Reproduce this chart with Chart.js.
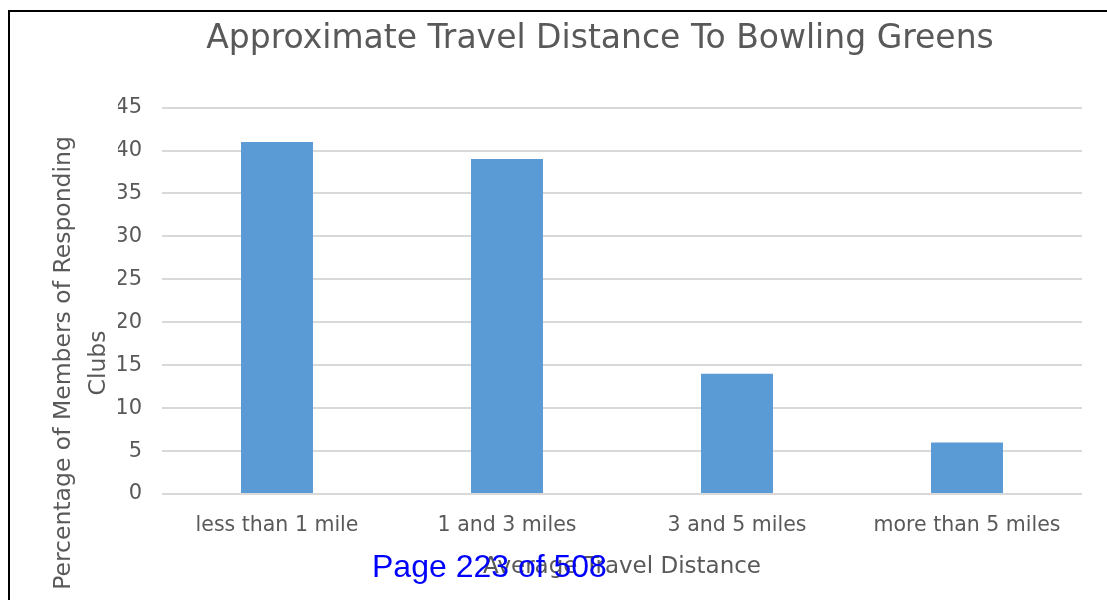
<!DOCTYPE html>
<html>
<head>
<meta charset="utf-8">
<script src="https://cdn.jsdelivr.net/npm/chart.js@4/dist/chart.umd.min.js"></script>
<style>
    html, body { margin: 0; padding: 0; background: #fff; overflow: hidden; }
    #frame { position: absolute; left: 8px; top: 10px; width: 1300px; height: 700px;
             border-left: 2px solid #000; border-top: 2px solid #000; }
    #wrap { position: absolute; left: 0; top: 0; width: 1200px; height: 600px; }
    #pageNote { position: absolute; left: 372px; top: 548px; color: #0000ff;
                font-family: "Liberation Sans", Arial, sans-serif; font-size: 32px; white-space: nowrap; }
</style>
</head>
<body>
<div id="frame"></div>
<div id="wrap"><canvas id="travelChart"></canvas></div>
<div id="pageNote">Page 223 of 508</div>
<script>
const categories = ['less than 1 mile', '1 and 3 miles', '3 and 5 miles', 'more than 5 miles'];
const percentages = [41, 39, 14, 6];
const yMin = 0;
const yMax = 45;
const yStep = 5;

const chartTitle = 'Approximate Travel Distance To Bowling Greens';
const yTitleLines = ['Percentage of Members of Responding', 'Clubs'];
const xTitle = 'Average Travel Distance';

const textColor = '#595959';
const fontName = '"DejaVu Sans", Tahoma, Verdana, sans-serif';

// y axis title sits lower than the plot centre in the original, so draw it by hand
const yTitlePlugin = {
    id: 'yTitle',
    afterDraw(chart) {
        const ctx = chart.ctx;
        const area = chart.chartArea;
        ctx.save();
        ctx.translate(64, area.bottom - 131);
        ctx.rotate(-Math.PI / 2);
        ctx.fillStyle = textColor;
        ctx.font = '23.5px ' + fontName;
        ctx.textAlign = 'center';
        ctx.textBaseline = 'middle';
        ctx.fillText(yTitleLines[0], 0, 0);
        ctx.fillText(yTitleLines[1], 0, 35);
        ctx.restore();
    }
};

const ctx = document.getElementById('travelChart').getContext('2d');
new Chart(ctx, {
    type: 'bar',
    data: {
        labels: categories,
        datasets: [{
            data: percentages,
            backgroundColor: '#5b9bd5',
            borderWidth: 0,
            categoryPercentage: 1,
            barPercentage: 0.313
        }]
    },
    options: {
        responsive: true,
        maintainAspectRatio: false,
        animation: false,
        layout: { padding: { left: 118, right: 118, top: 20, bottom: 19 } },
        plugins: {
            legend: { display: false },
            tooltip: { enabled: false },
            title: {
                display: true,
                text: chartTitle,
                color: textColor,
                font: { family: fontName, size: 33, weight: 'normal' },
                padding: { top: 0, bottom: 48 }
            }
        },
        scales: {
            x: {
                grid: { display: false, drawTicks: false },
                border: { display: false },
                ticks: { color: textColor, font: { family: fontName, size: 20.5 }, padding: 19, maxRotation: 0 },
                title: {
                    display: true,
                    text: xTitle,
                    color: textColor,
                    font: { family: fontName, size: 23 },
                    padding: { top: 0, bottom: 0 }
                },
                afterFit(scale) { scale.height = 87; }
            },
            y: {
                min: yMin,
                max: yMax,
                ticks: { stepSize: yStep, color: textColor, font: { family: fontName, size: 21 }, padding: 20 },
                grid: { color: '#d9d9d9', lineWidth: 2, drawTicks: false },
                border: { display: false },
                afterFit(scale) { scale.width = 44; }
            }
        }
    },
    plugins: [yTitlePlugin]
});
</script>
</body>
</html>
